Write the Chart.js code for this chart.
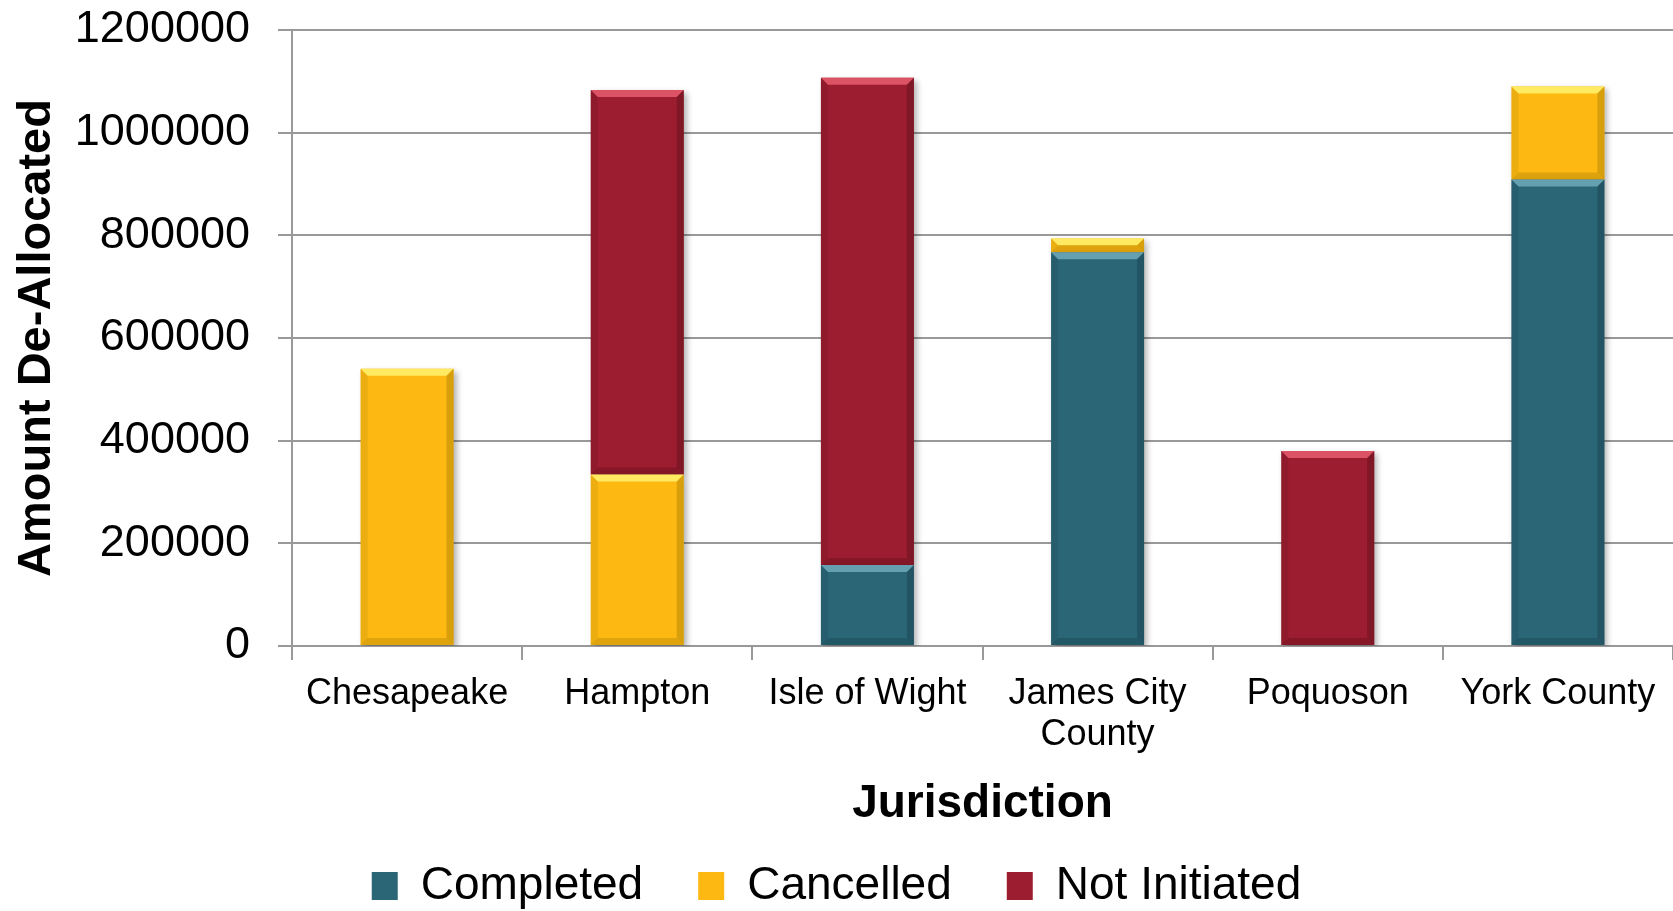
<!DOCTYPE html>
<html>
<head>
<meta charset="utf-8">
<script src="https://cdn.jsdelivr.net/npm/chart.js@4.4.0/dist/chart.umd.min.js"></script>
<style>
  html, body { margin: 0; padding: 0; background: #ffffff; overflow: hidden; }
  #wrap { width: 1673px; height: 911px; position: relative; }
</style>
</head>
<body>
<div id="wrap"><canvas id="c" width="1673" height="911"></canvas></div>
<script>
// ---- data ----
const categories = ["Chesapeake", "Hampton", "Isle of Wight", ["James City", "County"], "Poquoson", "York County"];
const seriesNames = ["Completed", "Cancelled", "Not Initiated"];
const completed    = [null,   null,   158000, 767000, null,   909000];
const cancelled    = [540000, 334000, null,   27000,  null,   181000];
const notInitiated = [null,   749000, 949000, null,   380000, null];
const yTicks = [0, 200000, 400000, 600000, 800000, 1000000, 1200000];

// ---- styles ----
const faceColors  = ["#2b6677", "#fdb812", "#9b1d2f"];
const lightColors = ["#6aa6b6", "#fff06a", "#e25a6a"];
const darkColors  = ["#1b4654", "#b88a08", "#6a1220"];

const bevelPlugin = {
  id: 'bevel',
  beforeDatasetDraw(chart) {
    const ctx = chart.ctx;
    ctx.save();
    ctx.shadowColor = 'rgba(0,0,0,0.30)';
    ctx.shadowBlur = 6;
    ctx.shadowOffsetX = 3;
    ctx.shadowOffsetY = 3;
  },
  afterDatasetDraw(chart) {
    chart.ctx.restore();
  },
  afterDatasetsDraw(chart) {
    const ctx = chart.ctx;
    chart.data.datasets.forEach((ds, di) => {
      const meta = chart.getDatasetMeta(di);
      meta.data.forEach((el, i) => {
        if (ds.data[i] == null) return;
        const p = el.getProps(['x', 'y', 'base', 'width'], true);
        const l = p.x - p.width / 2, r = p.x + p.width / 2;
        const t = Math.min(p.y, p.base), b = Math.max(p.y, p.base);
        const h = b - t;
        const bv = Math.min(7, h / 2);
        ctx.save();
        ctx.fillStyle = lightColors[di];
        ctx.globalAlpha = 0.9;
        ctx.beginPath();
        ctx.moveTo(l, t); ctx.lineTo(r, t); ctx.lineTo(r - bv, t + bv); ctx.lineTo(l + bv, t + bv); ctx.closePath();
        ctx.fill();
        ctx.fillStyle = darkColors[di];
        ctx.globalAlpha = 0.45;
        ctx.beginPath();
        ctx.moveTo(l, b); ctx.lineTo(r, b); ctx.lineTo(r - bv, b - bv); ctx.lineTo(l + bv, b - bv); ctx.closePath();
        ctx.fill();
        ctx.globalAlpha = 0.55;
        ctx.beginPath();
        ctx.moveTo(r, t); ctx.lineTo(r, b); ctx.lineTo(r - bv, b - bv); ctx.lineTo(r - bv, t + bv); ctx.closePath();
        ctx.fill();
        ctx.globalAlpha = 0.25;
        ctx.beginPath();
        ctx.moveTo(l, t); ctx.lineTo(l, b); ctx.lineTo(l + bv, b - bv); ctx.lineTo(l + bv, t + bv); ctx.closePath();
        ctx.fill();
        ctx.restore();
      });
    });
  }
};

const FONT = "'Liberation Sans', Arial, sans-serif";

new Chart(document.getElementById('c'), {
  type: 'bar',
  data: {
    labels: categories,
    datasets: [
      { label: seriesNames[0], data: completed,    backgroundColor: faceColors[0] },
      { label: seriesNames[1], data: cancelled,    backgroundColor: faceColors[1] },
      { label: seriesNames[2], data: notInitiated, backgroundColor: faceColors[2] }
    ]
  },
  options: {
    responsive: false,
    animation: false,
    devicePixelRatio: 1,
    layout: { padding: { top: 30, right: 0, bottom: -8, left: 0 } },
    datasets: { bar: { categoryPercentage: 1.0, barPercentage: 0.404, borderWidth: 0 } },
    scales: {
      x: {
        stacked: true,
        grid: { display: true, drawOnChartArea: false, drawTicks: true, tickLength: 14, color: '#999999', lineWidth: 2, offset: true },
        border: { display: true, color: '#999999', width: 2 },
        ticks: { color: '#000000', font: { family: FONT, size: 36, lineHeight: 1.15 }, padding: 13, maxRotation: 0, autoSkip: false },
        title: { display: true, text: 'Jurisdiction', color: '#000000', font: { family: FONT, size: 46, weight: 'bold', lineHeight: 1.2 }, padding: { top: 7.6, bottom: -23.6 } }
      },
      y: {
        stacked: true,
        min: 0, max: 1200000,
        afterBuildTicks(scale) { scale.ticks = yTicks.map(v => ({ value: v })); },
        afterFit(scale) { scale.width = 292; scale.paddingTop = 0; scale.paddingBottom = 0; },
        grid: { display: true, drawOnChartArea: true, drawTicks: true, tickLength: 14, color: '#999999', lineWidth: 2 },
        border: { display: true, color: '#999999', width: 2 },
        ticks: { color: '#000000', font: { family: FONT, size: 45 }, padding: 28, callback: v => String(v) },
        title: { display: true, text: 'Amount De-Allocated', color: '#000000', font: { family: FONT, size: 47, weight: 'bold', lineHeight: 1.2 }, padding: { top: 9, bottom: 0 } }
      }
    },
    plugins: {
      legend: {
        position: 'bottom',
        labels: { color: '#000000', font: { family: FONT, size: 46 }, boxWidth: 26, boxHeight: 28, padding: 55 }
      },
      tooltip: { enabled: false }
    }
  },
  plugins: [bevelPlugin]
});
</script>
</body>
</html>
